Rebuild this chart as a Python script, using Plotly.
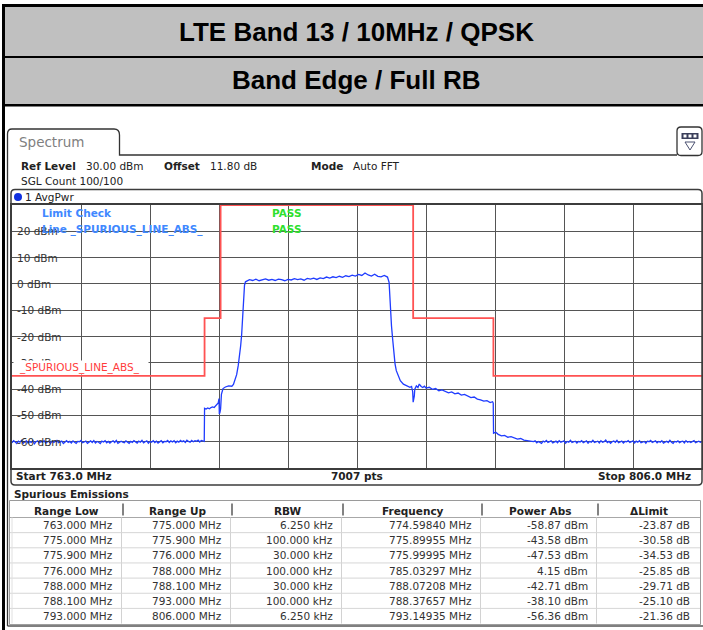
import numpy as np
import plotly.graph_objects as go

W, H = 703, 630
FONT = "DejaVu Sans"
TFONT = "Liberation Sans"

# ---------------- data ----------------
title_main = "LTE Band 13 / 10MHz / QPSK"
title_sub = "Band Edge / Full RB"

start_mhz, stop_mhz = 763.0, 806.0
ref_level_dbm = 30.0
bottom_dbm = -70.0
sweep_points = 7007
ytick_dbm = [20, 10, 0, -10, -20, -30, -40, -50, -60]

# trace: noise floor below the channel (763.0 ... 774.9 MHz, 0.1 MHz steps)
floor_low_dbm = [-60.4, -59.6, -60.1, -60.7, -59.8, -60.2, -59.5, -60.6, -60.0, -59.7,
                 -60.5, -59.9, -60.3, -59.6, -60.8, -60.0, -59.7, -60.4, -59.9, -60.2,
                 -59.6, -60.5, -60.1, -59.8, -60.6, -59.7, -60.3, -60.0, -59.5, -60.4,
                 -60.1, -59.8, -60.7, -60.0, -59.6, -60.3, -59.9, -60.5, -59.7, -60.2,
                 -60.6, -59.9, -60.0, -59.5, -60.4, -60.1, -59.8, -60.6, -60.0, -59.7,
                 -60.3, -59.6, -60.5, -59.9, -60.2, -60.7, -59.8, -60.1, -59.6, -60.4,
                 -59.9, -60.5, -60.0, -59.7, -60.3, -59.5, -60.6, -60.1, -59.8, -60.2,
                 -60.4, -59.7, -60.1, -60.6, -59.9, -60.3, -59.6, -60.0, -60.5, -59.8,
                 -60.2, -59.5, -60.4, -60.0, -59.7, -60.6, -59.9, -60.2, -59.6, -60.3,
                 -59.8, -60.5, -60.1, -59.6, -60.4, -59.9, -60.0, -59.5, -60.3, -59.7,
                 -60.1, -59.6, -60.4, -59.8, -60.2, -59.5, -60.0, -59.7, -60.3, -59.4,
                 -59.9, -60.2, -59.5, -60.0, -59.6, -59.8, -59.4, -60.1, -59.5, -59.7]
# lower band edge
edge_low_mhz = [774.98, 775.0, 775.1, 775.2, 775.3, 775.4, 775.5, 775.6, 775.7, 775.8,
                775.85, 775.9, 775.92, 775.96, 776.0, 776.05, 776.15, 776.3, 776.5, 776.7,
                776.8, 776.9, 777.0, 777.1, 777.17, 777.25, 777.31, 777.36, 777.41, 777.45,
                777.49, 777.55]
edge_low_dbm = [-59.9, -47.3, -47.6, -47.2, -47.5, -47.0, -46.8, -47.0, -46.4, -46.0,
                -45.3, -43.6, -49.5, -48.8, -47.5, -42.0, -39.8, -39.2, -38.8, -38.9,
                -38.2, -36.5, -34.5, -31.0, -28.2, -23.5, -19.4, -14.5, -9.3, -4.5,
                -0.5, 0.8]
# in-channel plateau (777.6 ... 786.4 MHz, 0.2 MHz steps)
plateau_dbm = [1.0, 1.6, 1.3, 1.8, 1.2, 1.5, 1.9, 1.4, 1.7, 1.3,
               1.8, 1.6, 1.2, 1.7, 1.5, 2.0, 1.6, 1.9, 1.4, 2.1,
               1.8, 2.2, 1.7, 2.3, 2.0, 2.6, 2.2, 2.7, 2.4, 2.9,
               2.5, 3.1, 2.8, 3.3, 3.0, 3.6, 3.2, 4.15, 3.4, 3.0,
               3.7, 2.9, 2.7, 3.2, 2.6]
# upper band edge
edge_high_mhz = [786.5, 786.56, 786.65, 786.73, 786.8, 786.87, 786.95, 787.07, 787.2, 787.39,
                 787.6, 787.8, 787.9, 787.97, 788.0, 788.04, 788.07, 788.1, 788.2, 788.3,
                 788.38, 788.5, 788.6, 788.7, 788.8, 789.0, 789.2, 789.4, 789.6, 789.8,
                 790.0, 790.2, 790.4, 790.6, 790.8, 791.0, 791.2, 791.4, 791.6, 791.8,
                 792.0, 792.2, 792.4, 792.6, 792.8, 792.95, 792.99, 793.01, 793.15, 793.3,
                 793.5, 793.7, 793.9, 794.1, 794.3, 794.5, 794.7, 794.9, 795.1, 795.3]
edge_high_dbm = [0.6, -8.8, -16.0, -21.5, -26.5, -30.4, -33.0, -34.9, -36.8, -38.1,
                 -38.6, -39.3, -39.0, -41.0, -45.0, -44.2, -42.7, -40.0, -38.8, -39.4,
                 -38.1, -39.0, -39.4, -38.9, -39.6, -39.3, -40.1, -39.8, -40.6, -40.3,
                 -41.0, -41.4, -41.1, -41.8, -41.5, -42.3, -42.0, -42.7, -43.2, -43.0,
                 -43.8, -44.1, -44.6, -44.4, -45.1, -44.8, -45.3, -56.8, -56.4, -57.2,
                 -57.8, -57.6, -58.3, -58.1, -58.7, -59.0, -58.8, -59.4, -59.6, -59.9]
# noise floor above the channel (795.5 ... 806.0 MHz, 0.1 MHz steps)
floor_high_dbm = [-60.0, -59.7, -60.4, -59.9, -60.2, -60.6, -59.8, -60.1, -59.5, -60.3,
                  -60.0, -59.7, -60.5, -60.1, -59.8, -60.4, -59.6, -60.2, -60.0, -59.7,
                  -60.6, -59.9, -60.2, -59.5, -60.3, -60.0, -59.8, -60.5, -59.9, -60.1,
                  -59.6, -60.4, -60.0, -59.7, -60.6, -59.9, -60.2, -59.5, -60.3, -60.1,
                  -59.8, -60.5, -59.6, -60.2, -60.0, -59.4, -60.3, -59.9, -60.6, -60.0,
                  -59.7, -60.2, -59.5, -60.4, -60.1, -59.8, -60.5, -59.9, -60.0, -59.6,
                  -60.3, -60.0, -59.7, -60.5, -59.8, -60.2, -59.6, -60.4, -60.1, -59.9,
                  -60.6, -59.8, -60.0, -59.5, -60.3, -60.1, -59.7, -60.4, -59.9, -60.2,
                  -59.6, -60.5, -60.0, -59.8, -60.3, -59.5, -60.2, -60.6, -59.9, -60.1,
                  -59.7, -60.4, -60.0, -59.8, -60.5, -59.6, -60.2, -59.9, -60.3, -60.0,
                  -59.6, -60.4, -60.1, -59.8, -60.2, -59.9]

# spurious emissions table
range_low_mhz = [763.0, 775.0, 775.9, 776.0, 788.0, 788.1, 793.0]
range_up_mhz = [775.0, 775.9, 776.0, 788.0, 788.1, 793.0, 806.0]
rbw_khz = [6.25, 100.0, 30.0, 100.0, 30.0, 100.0, 6.25]
peak_freq_mhz = [774.59840, 775.89955, 775.99995, 785.03297, 788.07208, 788.37657, 793.14935]
power_abs_dbm = [-58.87, -43.58, -47.53, 4.15, -42.71, -38.10, -56.36]
delta_limit_db = [-23.87, -30.58, -34.53, -25.85, -29.71, -25.10, -21.36]
table_headers = ["Range Low", "Range Up", "RBW", "Frequency", "Power Abs", "\u0394Limit"]

# ---------------- derived ----------------
floor_low_mhz = list(np.round(start_mhz + 0.1 * np.arange(len(floor_low_dbm)), 2))
plateau_mhz = list(np.round(777.6 + 0.2 * np.arange(len(plateau_dbm)), 2))
floor_high_mhz = list(np.round(795.5 + 0.1 * np.arange(len(floor_high_dbm)), 2))
trace_mhz = floor_low_mhz + edge_low_mhz + plateau_mhz + edge_high_mhz + floor_high_mhz
trace_dbm = floor_low_dbm + edge_low_dbm + plateau_dbm + edge_high_dbm + floor_high_dbm

limit_dbm = [round(p - d, 2) for p, d in zip(power_abs_dbm, delta_limit_db)]
lim_x, lim_y = [], []
for lo, up, lv in zip(range_low_mhz, range_up_mhz, limit_dbm):
    lim_x += [lo, up]
    lim_y += [lv, lv]


# ---------------- helpers ----------------
def px(x):
    return x / W


def py(y):
    return 1 - y / H


def rect(x0, y0, x1, y1, fill=None, line=None, lw=0, layer="above"):
    d = dict(type="rect", xref="paper", yref="paper", x0=px(x0), x1=px(x1), y0=py(y0), y1=py(y1),
             line=dict(width=lw, color=line or "rgba(0,0,0,0)"), layer=layer)
    if fill:
        d["fillcolor"] = fill
    return d


def hline(x0, x1, y, color, lw=1):
    return dict(type="line", xref="paper", yref="paper", x0=px(x0), x1=px(x1), y0=py(y), y1=py(y),
                line=dict(color=color, width=lw))


def vline(x, y0, y1, color, lw=1):
    return dict(type="line", xref="paper", yref="paper", x0=px(x), x1=px(x), y0=py(y0), y1=py(y1),
                line=dict(color=color, width=lw))


def rrect_path(x0, y0, x1, y1, r):
    return (f"M {px(x0 + r)},{py(y0)} L {px(x1 - r)},{py(y0)} Q {px(x1)},{py(y0)} {px(x1)},{py(y0 + r)} "
            f"L {px(x1)},{py(y1 - r)} Q {px(x1)},{py(y1)} {px(x1 - r)},{py(y1)} "
            f"L {px(x0 + r)},{py(y1)} Q {px(x0)},{py(y1)} {px(x0)},{py(y1 - r)} "
            f"L {px(x0)},{py(y0 + r)} Q {px(x0)},{py(y0)} {px(x0 + r)},{py(y0)} Z")


def txt(x, y, s, size=10.5, color="#222222", bold=False, anchor="left", family=FONT):
    return dict(x=px(x), y=py(y), xref="paper", yref="paper",
                text=f"<b>{s}</b>" if bold else s, showarrow=False,
                xanchor=anchor, yanchor="middle",
                font=dict(size=size, color=color, family=family))


shapes = []
annotations = []

# ---- title bands ----
shapes += [
    rect(2, 4, 703, 106.5, fill="#000000"),
    rect(5, 7, 703, 56, fill="#c0c0c0"),
    rect(5, 58, 703, 104, fill="#c0c0c0"),
    rect(2, 4, 5, 630, fill="#000000"),
]
annotations += [
    txt(356, 32, title_main, size=26, color="#000000", bold=True, anchor="center", family=TFONT),
    txt(356, 80, title_sub, size=26, color="#000000", bold=True, anchor="center", family=TFONT),
]

# ---- tab, container, icon ----
tab_path = (f"M {px(7.5)},{py(626)} L {px(7.5)},{py(134)} Q {px(7.5)},{py(129)} {px(12)},{py(129)} "
            f"L {px(114)},{py(129)} Q {px(119.5)},{py(129)} {px(119.5)},{py(135)} "
            f"L {px(119.5)},{py(155)} L {px(677)},{py(155)}")
shapes.append(dict(type="path", xref="paper", yref="paper", path=tab_path,
                   line=dict(color="#333333", width=1.3)))
shapes.append(hline(7.5, 703, 626, "#555555", 1.5))
shapes.append(dict(type="path", xref="paper", yref="paper", path=rrect_path(677, 127, 702, 155.5, 4),
                   line=dict(color="#333333", width=1.3)))
shapes.append(rect(681.5, 133, 698.5, 139, fill="#3a3f5a"))
for bx in (683.5, 688.5, 693.5):
    shapes.append(rect(bx, 134.5, bx + 3, 137.5, fill="#ffffff"))
shapes.append(dict(type="path", xref="paper", yref="paper",
                   path=f"M {px(685)},{py(142)} L {px(695)},{py(142)} L {px(690)},{py(150)} Z",
                   line=dict(color="#4a5070", width=1)))
annotations.append(txt(17, 142, "Spectrum", size=13.5, color="#808080"))

# ---- header info ----
annotations += [
    txt(19, 166, "Ref Level", bold=True),
    txt(84, 166, f"{ref_level_dbm:.2f} dBm"),
    txt(162, 166, "Offset", bold=True),
    txt(208, 166, "11.80 dB"),
    txt(309, 166, "Mode", bold=True),
    txt(351, 166, "Auto FFT"),
    txt(19, 181, "SGL Count 100/100"),
    txt(23, 197, "1 AvgPwr"),
]

# ---- diagram frame ----
shapes.append(dict(type="path", xref="paper", yref="paper", path=rrect_path(11, 189.5, 702, 485, 4),
                   line=dict(color="#3c3c3c", width=1.5)))
shapes.append(dict(type="circle", xref="paper", yref="paper", x0=px(14), x1=px(22), y0=py(193), y1=py(201),
                   fillcolor="#1030e0", line=dict(width=0)))

# y-axis labels inside diagram
for v in ytick_dbm:
    lab = f"{v} dBm"
    shapes.append(dict(type="rect", xref="paper", yref="y", x0=px(12.8), x1=px(16 + 6.6 * len(lab)),
                       y0=v - 1.9, y1=v + 1.9, fillcolor="#ffffff", line=dict(width=0), layer="between"))
    annotations.append(dict(x=px(15), y=v, xref="paper", yref="y", text=lab, showarrow=False,
                            xanchor="left", yanchor="middle",
                            font=dict(size=10.5, color="#333333", family=FONT)))

# limit line label with white box (covers lower half of the -30 dBm label, as on the instrument)
annotations.append(dict(x=px(12.8), y=limit_dbm[0] + 0.35, xref="paper", yref="y", text=" ",
                        showarrow=False, xanchor="left", yanchor="bottom", bgcolor="#ffffff",
                        width=130, height=9, borderpad=2))
annotations.append(dict(x=px(17), y=limit_dbm[0] + 3.3, xref="paper", yref="y", text="_SPURIOUS_LINE_ABS_",
                        showarrow=False, xanchor="left", yanchor="middle",
                        font=dict(size=10.5, color="#ff3b3b", family=FONT)))

# limit check texts
annotations += [
    txt(40, 213, "Limit Check", bold=True, color="#4088ff"),
    txt(40, 229, "Line _SPURIOUS_LINE_ABS_", bold=True, color="#4088ff"),
    txt(270, 213, "PASS", bold=True, color="#2ee02e"),
    txt(270, 229, "PASS", bold=True, color="#2ee02e"),
]

# start / stop row
annotations += [
    txt(14, 476, f"Start {start_mhz:.1f} MHz", bold=True),
    txt(357, 476, f"{sweep_points} pts", bold=True, anchor="center"),
    txt(693, 476, f"Stop {stop_mhz:.1f} MHz", bold=True, anchor="right"),
]

# ---- spurious emissions table ----
annotations.append(txt(12, 494, "Spurious Emissions", bold=True))
col_x = [10, 123, 232, 343, 482, 598, 700]
head_y0, head_y1 = 501, 517.5
row_h = 15.15
n_rows = len(range_low_mhz)
body_y1 = head_y1 + row_h * n_rows

shapes.append(rect(9.5, 500.5, 700.5, body_y1 + 1, line="#9a9a9a", lw=1))
shapes.append(hline(10, 700, head_y1, "#a8a8a8", 1))
for cx in col_x[1:-1]:
    shapes.append(vline(cx, head_y0 + 2.5, head_y1 - 2, "#5a5a5a", 1.5))
    shapes.append(vline(cx - 1.5, head_y1, body_y1, "#d2d2d2", 1))
for i in range(1, n_rows):
    shapes.append(hline(10, 700, head_y1 + row_h * i, "#d6d6d6", 1))
shapes.append(vline(12, head_y1, body_y1, "#e0e0e0", 1))

for j, h in enumerate(table_headers):
    annotations.append(txt((col_x[j] + col_x[j + 1]) / 2, 510.5, h, bold=True, anchor="center"))

rows = list(zip(
    [f"{v:.3f} MHz" for v in range_low_mhz],
    [f"{v:.3f} MHz" for v in range_up_mhz],
    [f"{v:.3f} kHz" for v in rbw_khz],
    [f"{v:.5f} MHz" for v in peak_freq_mhz],
    [f"{v:.2f} dBm" for v in power_abs_dbm],
    [f"{v:.2f} dB" for v in delta_limit_db],
))
for i, row in enumerate(rows):
    yc = head_y1 + row_h * (i + 0.5)
    for j, cell in enumerate(row):
        annotations.append(txt(col_x[j + 1] - 8, yc, cell, color="#333333", anchor="right"))

# ---------------- figure ----------------
fig = go.Figure()
fig.add_trace(go.Scatter(x=lim_x, y=lim_y, mode="lines", line=dict(color="#ff5252", width=1.8),
                         hoverinfo="skip", showlegend=False))
fig.add_trace(go.Scatter(x=trace_mhz, y=trace_dbm, mode="lines", line=dict(color="#1f3cff", width=1.3),
                         hoverinfo="skip", showlegend=False))

axis_common = dict(showgrid=True, gridcolor="#555555", gridwidth=1.4, zeroline=False,
                   showticklabels=False, ticks="", showline=True, mirror=True,
                   linecolor="#3c3c3c", linewidth=1.5, fixedrange=True, layer="below traces")
fig.update_layout(
    width=W, height=H, margin=dict(l=0, r=0, t=0, b=0),
    paper_bgcolor="#ffffff", plot_bgcolor="#ffffff",
    xaxis=dict(range=[start_mhz, stop_mhz], tick0=start_mhz, dtick=(stop_mhz - start_mhz) / 10,
               domain=[px(12), px(702)], **axis_common),
    yaxis=dict(range=[bottom_dbm, ref_level_dbm], tick0=0, dtick=10,
               domain=[py(468), py(205)], **axis_common),
    shapes=shapes, annotations=annotations, hovermode=False, showlegend=False,
)

fig.write_html("out.html", config={"displayModeBar": False},
               post_script="document.body.style.margin='0';document.body.style.overflow='hidden';")
